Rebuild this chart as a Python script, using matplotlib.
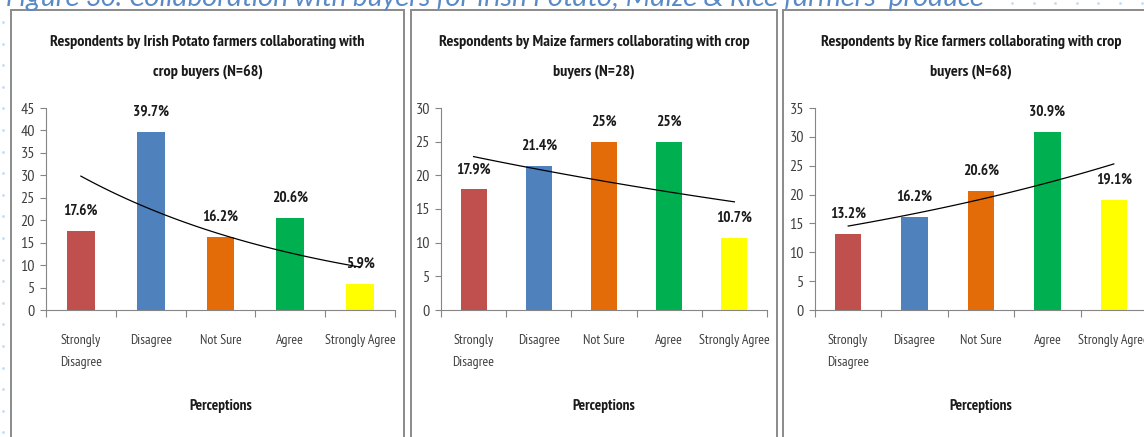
import numpy as np
import matplotlib
matplotlib.use("Agg")
import matplotlib.pyplot as plt
from matplotlib.patches import Rectangle
from matplotlib.lines import Line2D

# survey shares (%) per perception category
categories = ["Strongly\nDisagree", "Disagree", "Not Sure", "Agree", "Strongly Agree"]
potato = [17.6, 39.7, 16.2, 20.6, 5.9]
maize = [17.9, 21.4, 25, 25, 10.7]
rice = [13.2, 16.2, 20.6, 30.9, 19.1]
potato_labels = ["17.6%", "39.7%", "16.2%", "20.6%", "5.9%"]
maize_labels = ["17.9%", "21.4%", "25%", "25%", "10.7%"]
rice_labels = ["13.2%", "16.2%", "20.6%", "30.9%", "19.1%"]

titles = [
    ["Respondents by Irish Potato farmers collaborating with", "crop buyers (N=68)"],
    ["Respondents by Maize farmers collaborating with crop", "buyers (N=28)"],
    ["Respondents by Rice farmers collaborating with crop", "buyers (N=68)"],
]
caption = "Figure 30: Collaboration with buyers for Irish Potato, Maize & Rice farmers' produce"

colors = ["#C0504D", "#4F81BD", "#E36C09", "#00B050", "#FFFF00"]
NARROW = ["PT Sans Narrow", "DejaVu Sans"]
DARK = "#1a1a1a"
GREY = "#868686"

W, H = 1144, 437
fig = plt.figure(figsize=(W / 100, H / 100), dpi=100)


def px(x, y):
    # pixel (from top-left) to figure fraction
    return x / W, 1 - y / H


# panel frames: (left, right) in pixels
frames = [(11, 404), (411, 777), (783, 1159)]
for l, r in frames:
    x0, y0 = px(l, 470)
    x1, y1 = px(r, 10)
    fig.patches.append(Rectangle((x0, y0), x1 - x0, y1 - y0, transform=fig.transFigure,
                                 fill=False, edgecolor="#8a8a8a", lw=1.4, zorder=0))

# caption, partly cut off at the top edge
fig.text(6 / W, 1 - 6 / H, caption, fontsize=20.8, style="italic", family="Carlito",
         color="#5a8ac6", va="baseline", ha="left")

# boundary dots
dot_y = np.arange(22, H, 21.6)
fig.add_artist(Line2D(np.full(len(dot_y), 2.5) / W, 1 - dot_y / H, transform=fig.transFigure,
                      ls="none", marker="o", ms=2, color="#c5dcf0", mec="none"))
dot_x = np.arange(1012, W, 21.6)
fig.add_artist(Line2D(dot_x / W, np.full(len(dot_x), 1 - 3 / H), transform=fig.transFigure,
                      ls="none", marker="o", ms=2, color="#c5dcf0", mec="none"))

# axes placement: (left, right, ymax, step)
axes_spec = [(46, 395, 45, 5), (441, 767, 30, 5), (815, 1147, 35, 5)]
series = [potato, maize, rice]
labels = [potato_labels, maize_labels, rice_labels]

for (l, r, ymax, step), vals, labs, title, (fl, fr) in zip(axes_spec, series, labels, titles, frames):
    x0, y0 = px(l, 310)
    x1, y1 = px(r, 108)
    ax = fig.add_axes([x0, y0, x1 - x0, y1 - y0])
    xs = np.arange(1, len(vals) + 1)
    ax.bar(xs, vals, width=0.4, color=colors, zorder=2)

    for x, v, t in zip(xs, vals, labs):
        ax.annotate(t, (x, v), xytext=(0, 14.5), textcoords="offset points", ha="center",
                    va="center", fontsize=11, fontweight="bold", family=NARROW, color=DARK)

    # exponential trendline
    b, a = np.polyfit(xs, np.log(vals), 1)
    xt = np.linspace(1, len(vals), 100)
    ax.plot(xt, np.exp(a + b * xt), color="black", lw=0.9, zorder=3)

    ax.set_xlim(0.5, len(vals) + 0.5)
    ax.set_ylim(0, ymax)
    ax.set_yticks(np.arange(0, ymax + 1, step))
    ax.set_xticks(np.arange(0.5, len(vals) + 1, 1))
    ax.set_xticklabels([])
    ax.set_xticks(xs, minor=True)
    ax.set_xticklabels(categories, minor=True, family=NARROW, fontsize=10,
                       color="#404040", linespacing=1.95, va="top")
    ax.tick_params(axis="x", which="minor", length=0, pad=17)
    ax.tick_params(axis="x", which="major", length=5, color=GREY, direction="out")
    ax.tick_params(axis="y", length=4, color=GREY, labelsize=11.5, labelcolor="#404040", pad=4)
    for lab in ax.get_yticklabels():
        lab.set_family(NARROW)
    for s in ["top", "right"]:
        ax.spines[s].set_visible(False)
    for s in ["left", "bottom"]:
        ax.spines[s].set_color(GREY)
    ax.set_facecolor("none")

    for line, yy in zip(title, [42, 72]):
        tx, ty = px((fl + fr) / 2, yy)
        fig.text(tx, ty, line, ha="center", va="center", fontsize=11.6, fontweight="bold",
                 family=NARROW, color=DARK)
    ptx, pty = px((l + r) / 2, 406)
    fig.text(ptx, pty, "Perceptions", ha="center", va="center", fontsize=11,
             fontweight="bold", family=NARROW, color=DARK)

fig.savefig("out.png", dpi=100)
